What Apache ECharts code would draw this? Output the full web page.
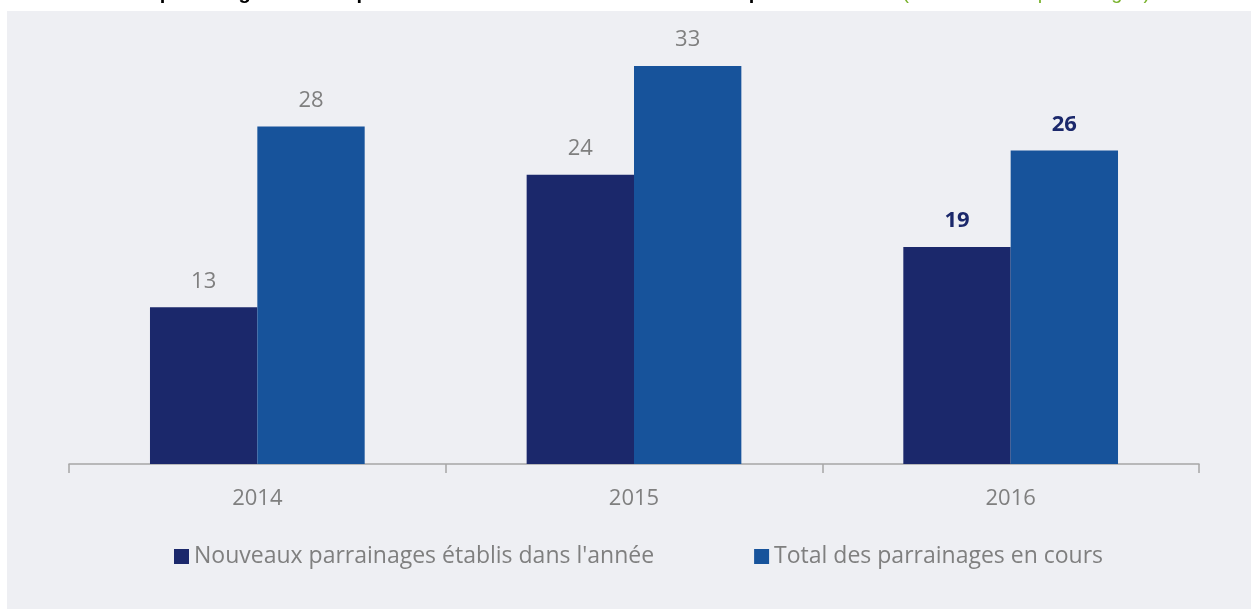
<!DOCTYPE html>
<html>
<head>
<meta charset="utf-8">
<script src="https://cdn.jsdelivr.net/npm/echarts@6/dist/echarts.min.js"></script>
<style>
  html, body { margin: 0; padding: 0; background: #fff; }
  #main { width: 1251px; height: 610px; }
</style>
</head>
<body>
<div id="main"></div>
<script>
// données du graphique
var years = ['2014', '2015', '2016'];
var nouveaux = [13, 24, 18];          // hauteur des barres telle que dessinée
var nouveauxLabels = ['13', '24', '19']; // étiquettes affichées
var total = [28, 33, 26];
var totalLabels = ['28', '33', '26'];
var seriesNames = ["Nouveaux parrainages établis dans l'année", 'Total des parrainages en cours'];

var sombre = '#1b286b';
var clair = '#17539b';
var gris = '#7f7f7f';

// la dernière année est mise en valeur (gras, bleu foncé)
function mkData(vals) {
    return vals.map(function (v, i) {
        if (i === vals.length - 1) {
            return { value: v, label: { color: sombre, fontWeight: 'bold' } };
        }
        return v;
    });
}

var myChart = echarts.init(document.getElementById('main'));
myChart.setOption({
    animation: false,
    textStyle: { fontFamily: 'Open Sans' },
    title: {
        left: 33,
        top: -17,
        padding: 0,
        text: "{b|Évolution du parrainage des entreprises et des salariés dans le cadre de la présente action }{g|(en nombre de parrainages)}",
        textStyle: {
            fontWeight: 'normal',
            rich: {
                b: { fontFamily: 'Liberation Sans', fontWeight: 'bold', fontSize: 20, color: '#000' },
                g: { fontFamily: 'Liberation Sans', fontWeight: 'normal', fontSize: 20, color: '#7ab32e' }
            }
        }
    },
    graphic: [{
        type: 'rect',
        z: -10,
        shape: { x: 7, y: 11, width: 1250, height: 598 },
        style: { fill: '#eeeff3' }
    }],
    legend: {
        left: 169,
        top: 540,
        itemWidth: 15,
        itemHeight: 15,
        itemGap: 100,
        icon: 'rect',
        textStyle: { color: gris, fontSize: 23, fontFamily: 'Open Sans' },
        data: seriesNames
    },
    grid: { left: 69, right: 52, top: 42, bottom: 146 },
    xAxis: {
        type: 'category',
        data: years,
        axisLine: { show: true, lineStyle: { color: '#a6a6a6', width: 1.5 } },
        axisTick: { show: true, length: 9, lineStyle: { color: '#a6a6a6', width: 1.5 } },
        axisLabel: { color: gris, fontSize: 22, margin: 24 }
    },
    yAxis: {
        type: 'value',
        min: 0,
        max: 35,
        show: false,
        splitLine: { show: false }
    },
    series: [
        {
            name: seriesNames[0],
            type: 'bar',
            barCategoryGap: '43%',
            barGap: '0%',
            itemStyle: { color: sombre },
            label: {
                show: true, position: 'top', distance: 15, color: gris, fontSize: 22,
                formatter: function (p) { return nouveauxLabels[p.dataIndex]; }
            },
            data: mkData(nouveaux)
        },
        {
            name: seriesNames[1],
            type: 'bar',
            barCategoryGap: '43%',
            barGap: '0%',
            itemStyle: { color: clair },
            label: {
                show: true, position: 'top', distance: 15, color: gris, fontSize: 22,
                formatter: function (p) { return totalLabels[p.dataIndex]; }
            },
            data: mkData(total)
        }
    ]
});
</script>
</body>
</html>
